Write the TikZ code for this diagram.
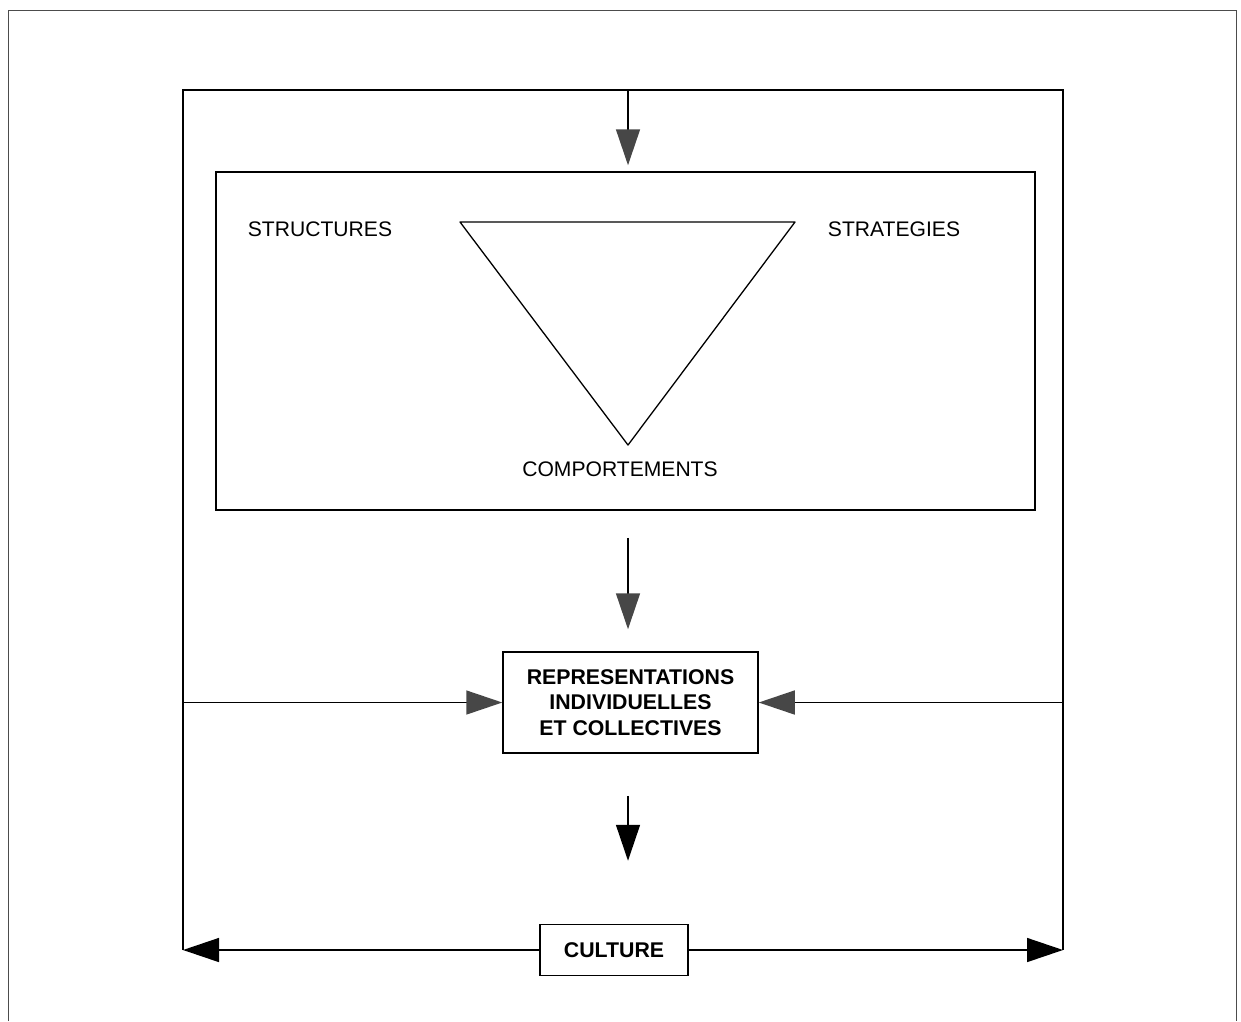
\documentclass[tikz,border=0pt]{standalone}
\usepackage{fontspec}
\setmainfont{Liberation Sans}
\usetikzlibrary{arrows.meta}
\begin{document}
\begin{tikzpicture}[x=1pt,y=-1pt, line width=1.5pt,
  box/.style={draw, line width=1.5pt, inner sep=0pt, align=center,
    font=\fontsize{21.3}{25.5}\selectfont\bfseries},
  lbl/.style={font=\fontsize{21.1}{25}\selectfont, inner sep=0pt, anchor=base},
  arr/.style={-{Triangle[length=36pt,width=24pt]}, line width=1.5pt},
  garr/.style={arr, arrows={-{Triangle[length=36pt,width=24pt,fill=black!72,color=black!72]}}},
]
\useasboundingbox (0,0) rectangle (1241,1021);
% outer page frame
\draw[black!70, line width=1pt] (8,1021) -- (8,10) -- (1236,10) -- (1236,1021);
% loop corners
\coordinate (tl) at (183,90);
\coordinate (tr) at (1063,90);
\coordinate (topmid) at (628,90);
% inner box
\node[draw, line width=1.5pt, minimum width=819pt, minimum height=338pt, inner sep=0pt] (inner) at (625.5,341) {};
% triangle
\coordinate (ta) at (460,222);
\coordinate (tb) at (795,222);
\coordinate (tc) at (628,445);
\draw[line width=1.3pt, line join=round] (ta) -- (tb) -- (tc) -- cycle;
\node[lbl] (structures) at (320,236) {STRUCTURES};
\node[lbl] (strategies) at (894,236) {STRATEGIES};
\node[lbl] (comport) at (620,476) {COMPORTEMENTS};
% representations box
\node[box, minimum width=255pt, minimum height=101pt] (repr) at (630.5,702.5)
  {REPRESENTATIONS\\INDIVIDUELLES\\ET COLLECTIVES};
% culture box
\node[box, minimum width=148pt, minimum height=51pt] (culture) at (614,950) {CULTURE};
% loop lines
\draw (tl |- culture.west) -- (tl) -- (tr) -- (tr |- culture.west);
% arrows
\draw[garr, shorten >=6pt] (topmid) -- (topmid |- inner.north);
\draw[garr, shorten <=27pt, shorten >=22pt] (inner.south -| topmid) -- (repr.north -| topmid);
\draw[garr] (tl |- repr.west) -- (repr.west);
\draw[garr] (tr |- repr.east) -- (repr.east);
\draw[arr, shorten <=42pt, shorten >=63pt] (repr.south -| topmid) -- (culture.north -| topmid);
\draw[arr] (culture.west) -- (tl |- culture.west);
\draw[arr] (culture.east) -- (tr |- culture.east);
\end{tikzpicture}
\end{document}
